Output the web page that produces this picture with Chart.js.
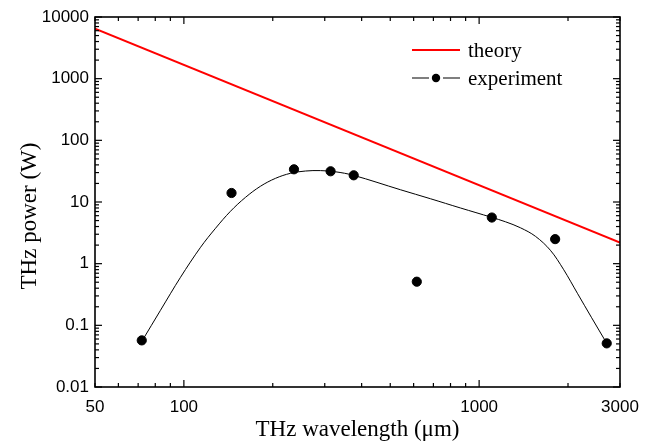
<!DOCTYPE html>
<html><head><meta charset="utf-8">
<script src="https://cdn.jsdelivr.net/npm/chart.js@4/dist/chart.umd.min.js"></script>
<style>html,body{margin:0;padding:0;background:#fff;}canvas{display:block;}</style>
</head><body>
<canvas id="c" width="655" height="444"></canvas>
<script>
// ---- data ----
const expWavelength = [72, 145, 236, 314, 376, 615, 1104, 1809, 2705];
const expPower      = [0.057, 14.0, 33.9, 31.5, 27.1, 0.51, 5.6, 2.5, 0.051];

// smooth fitted curve traced through the experiment points
const fitWavelength = [72.4, 83.3, 97.4, 113.9, 128.0, 143.8, 161.7, 181.7, 204.3, 229.6, 258.1, 290.1, 326.1, 375.3, 541.4, 684, 864.5, 1101, 1228, 1380, 1551, 1743, 1930, 2152, 2400, 2699];
const fitPower      = [0.0572, 0.175, 0.601, 1.844, 3.75, 7.07, 11.9, 18.0, 24.2, 29.2, 31.8, 32.3, 30.9, 27.1, 15.8, 11.3, 8.0, 5.65, 4.78, 3.82, 2.78, 1.65, 0.811, 0.331, 0.135, 0.0521];

const theoryWavelength = [50, 3000];
const theoryPower      = [6450, 2.2];

const xTickValues = [50, 100, 1000, 3000];
const yTickValues = [0.01, 0.1, 1, 10, 100, 1000, 10000];
const xRange = [50, 3000];
const yRange = [0.01, 10000];

const seriesNames = ['theory', 'experiment'];
const xTitle = 'THz wavelength (\u03bcm)';
const yTitle = 'THz power (W)';

const toXY = (xs, ys) => xs.map((v, i) => ({x: v, y: ys[i]}));

// ---- frame with inward log ticks on all four sides ----
const framePlugin = {
  id: 'frame',
  afterDatasetsDraw(chart) {
    const {ctx, chartArea: a, scales: {x, y}} = chart;
    ctx.save();
    ctx.strokeStyle = '#000';
    ctx.lineWidth = 1.2;
    const seg = (x1, y1, x2, y2) => { ctx.beginPath(); ctx.moveTo(x1, y1); ctx.lineTo(x2, y2); ctx.stroke(); };
    for (let e = -3; e <= 5; e++) {
      for (let m = 1; m <= 9; m++) {
        const v = m * Math.pow(10, e);
        if (v >= y.min * 0.999 && v <= y.max * 1.001) {
          const p = y.getPixelForValue(v);
          const len = m === 1 ? 7 : 4;
          seg(a.left, p, a.left + len, p);
          seg(a.right - len, p, a.right, p);
        }
        if (v >= x.min * 0.999 && v <= x.max * 1.001) {
          const p = x.getPixelForValue(v);
          const len = m === 1 ? 7 : 4;
          seg(p, a.bottom, p, a.bottom - len);
          seg(p, a.top, p, a.top + len);
        }
      }
    }
    ctx.lineWidth = 1.6;
    ctx.strokeRect(a.left, a.top, a.right - a.left, a.bottom - a.top);
    ctx.restore();
  }
};

// ---- y title (placed slightly below centre, as in the reference) ----
const yTitlePlugin = {
  id: 'yTitle',
  afterDraw(chart) {
    const {ctx, chartArea: a} = chart;
    ctx.save();
    ctx.translate(28, (a.top + a.bottom) / 2 + 14);
    ctx.rotate(-Math.PI / 2);
    ctx.font = '23px "Liberation Serif", "Times New Roman", serif';
    ctx.fillStyle = '#000';
    ctx.textAlign = 'center';
    ctx.textBaseline = 'middle';
    ctx.fillText(yTitle, 0, 2);
    ctx.restore();
  }
};

// ---- legend: red line / line-dot-line ----
const legendPlugin = {
  id: 'legendDraw',
  afterDraw(chart) {
    const {ctx, chartArea: a} = chart;
    const ds = chart.data.datasets;
    const x0 = a.right - 208, x1 = x0 + 48, tx = x0 + 56;
    const rows = [a.top + 33, a.top + 61];
    ctx.save();
    ctx.font = '21px "Liberation Serif", "Times New Roman", serif';
    ctx.fillStyle = '#000';
    ctx.textBaseline = 'middle';
    ctx.strokeStyle = ds[0].borderColor; ctx.lineWidth = ds[0].borderWidth;
    ctx.beginPath(); ctx.moveTo(x0, rows[0]); ctx.lineTo(x1, rows[0]); ctx.stroke();
    ctx.fillText(seriesNames[0], tx, rows[0] + 1);
    ctx.strokeStyle = '#000'; ctx.lineWidth = 1.2;
    const mid = (x0 + x1) / 2;
    ctx.beginPath(); ctx.moveTo(x0, rows[1]); ctx.lineTo(mid - 7, rows[1]);
    ctx.moveTo(mid + 7, rows[1]); ctx.lineTo(x1, rows[1]); ctx.stroke();
    ctx.beginPath(); ctx.arc(mid, rows[1], 4.2, 0, Math.PI * 2); ctx.fill();
    ctx.fillText(seriesNames[1], tx, rows[1] + 1);
    ctx.restore();
  }
};

const tickFont = {family: '"Liberation Sans", Arial, sans-serif', size: 17};
const titleFont = {family: '"Liberation Serif", "Times New Roman", serif', size: 23, lineHeight: 1.2};

new Chart(document.getElementById('c'), {
  type: 'scatter',
  data: {
    datasets: [
      {label: seriesNames[0], data: toXY(theoryWavelength, theoryPower), showLine: true,
       borderColor: '#ff0000', borderWidth: 2, pointRadius: 0, order: 3},
      {label: 'fit', data: toXY(fitWavelength, fitPower), showLine: true,
       borderColor: '#000', borderWidth: 1, pointRadius: 0, tension: 0.35, order: 2},
      {label: seriesNames[1], data: toXY(expWavelength, expPower), showLine: false,
       backgroundColor: '#000', borderColor: '#000', borderWidth: 1, pointRadius: 4.6, order: 1}
    ]
  },
  options: {
    responsive: false,
    animation: false,
    devicePixelRatio: 1,
    layout: {padding: {top: 17, right: 35, left: 0, bottom: 0}},
    plugins: {legend: {display: false}, tooltip: {enabled: false}},
    scales: {
      x: {
        type: 'logarithmic', min: xRange[0], max: xRange[1],
        afterFit: s => { s.height = 57; },
        afterBuildTicks: s => { s.ticks = xTickValues.map(v => ({value: v})); },
        grid: {display: false, drawTicks: false},
        border: {display: false},
        ticks: {autoSkip: false, maxRotation: 0, color: '#000', font: tickFont, padding: 10,
                callback: v => String(v)},
        title: {display: true, text: xTitle, color: '#000', font: titleFont, padding: {top: 0, bottom: 0}}
      },
      y: {
        type: 'logarithmic', min: yRange[0], max: yRange[1],
        afterFit: s => { s.width = 95; },
        afterBuildTicks: s => { s.ticks = yTickValues.map(v => ({value: v})); },
        grid: {display: false, drawTicks: false},
        border: {display: false},
        ticks: {autoSkip: false, color: '#000', font: tickFont, padding: 6,
                callback: v => String(v)},
        title: {display: false}
      }
    }
  },
  plugins: [framePlugin, yTitlePlugin, legendPlugin]
});
</script>
</body></html>
